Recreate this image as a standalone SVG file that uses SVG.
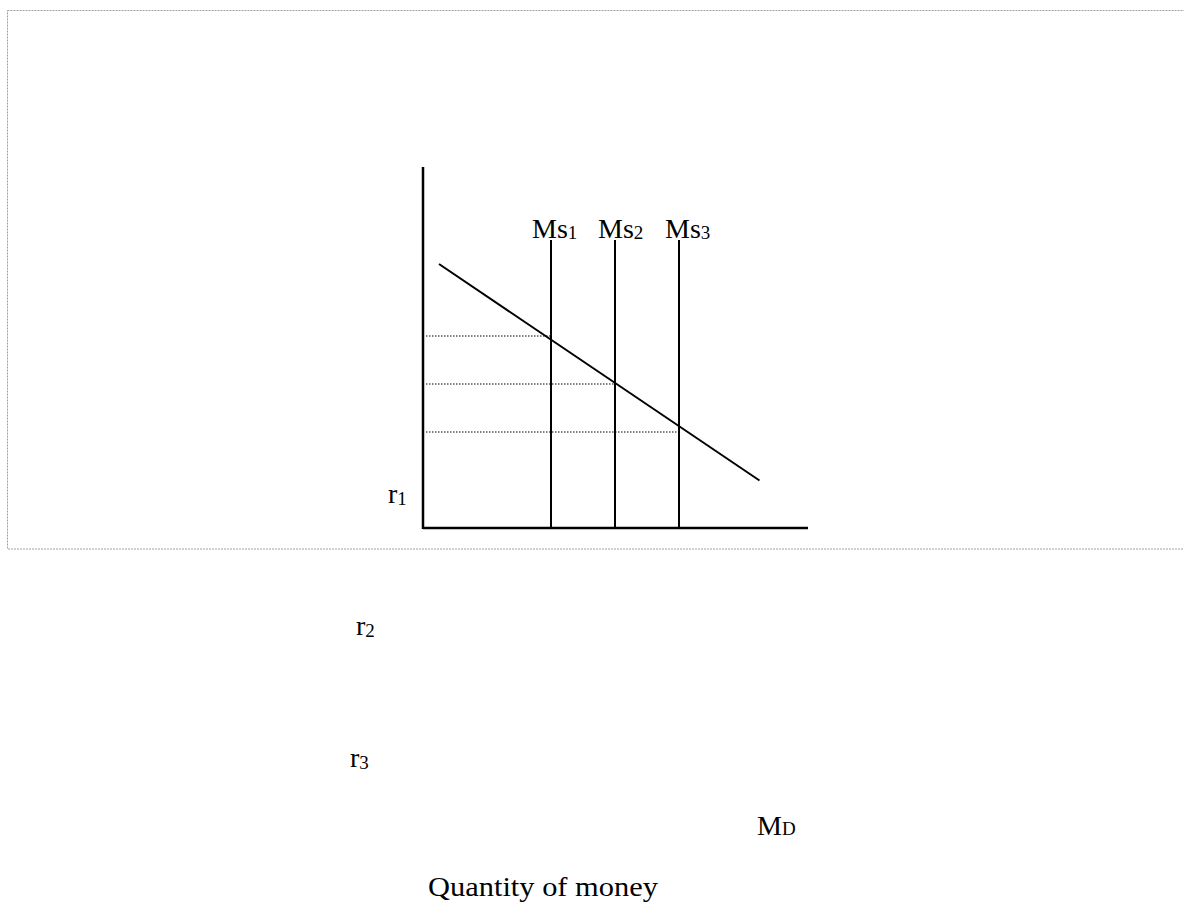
<svg xmlns="http://www.w3.org/2000/svg" width="1184" height="903" viewBox="0 0 1184 903">
<style>
text{font-family:"Liberation Serif","DejaVu Serif",serif;font-size:28px;fill:#000}
.sub{font-size:19px}
.ln{stroke:#000;stroke-width:2;fill:none}
.ax{stroke:#000;stroke-width:2.5;fill:none}
.dot{stroke:#000;stroke-width:1;stroke-dasharray:1.5,1.5;fill:none}
</style>
<rect x="7.5" y="10.5" width="1190" height="538.5" fill="none" stroke="#a0a0a0" stroke-width="1" stroke-dasharray="2,1"/>
<g id="connectors">
<line class="ax" x1="423" y1="167" x2="423" y2="529"/>
<line class="ax" x1="423" y1="528" x2="808" y2="528"/>
<line class="ln" x1="551" y1="240" x2="551" y2="528"/>
<line class="ln" x1="615" y1="240" x2="615" y2="528"/>
<line class="ln" x1="679" y1="240" x2="679" y2="528"/>
<line class="ln" x1="439" y1="264" x2="759.5" y2="480.5"/>
<line class="dot" x1="426" y1="336" x2="551" y2="336"/>
<line class="dot" x1="426" y1="384" x2="615" y2="384"/>
<line class="dot" x1="426" y1="432" x2="679" y2="432"/>
</g>
<g id="ms1"><text x="532" y="238">Ms<tspan class="sub" dy="1">1</tspan></text></g>
<g id="ms2"><text x="598" y="238">Ms<tspan class="sub" dy="1">2</tspan></text></g>
<g id="ms3"><text x="665" y="238">Ms<tspan class="sub" dy="1">3</tspan></text></g>
<g id="r1"><text x="388" y="503">r<tspan class="sub" dy="2">1</tspan></text></g>
<g id="r2"><text x="356" y="635">r<tspan class="sub" dy="2">2</tspan></text></g>
<g id="r3"><text x="350" y="767">r<tspan class="sub" dy="2">3</tspan></text></g>
<g id="md"><text x="757" y="835">M<tspan class="sub">D</tspan></text></g>
<g id="xlabel"><text x="428" y="896" textLength="230" lengthAdjust="spacingAndGlyphs">Quantity of money</text></g>
</svg>
